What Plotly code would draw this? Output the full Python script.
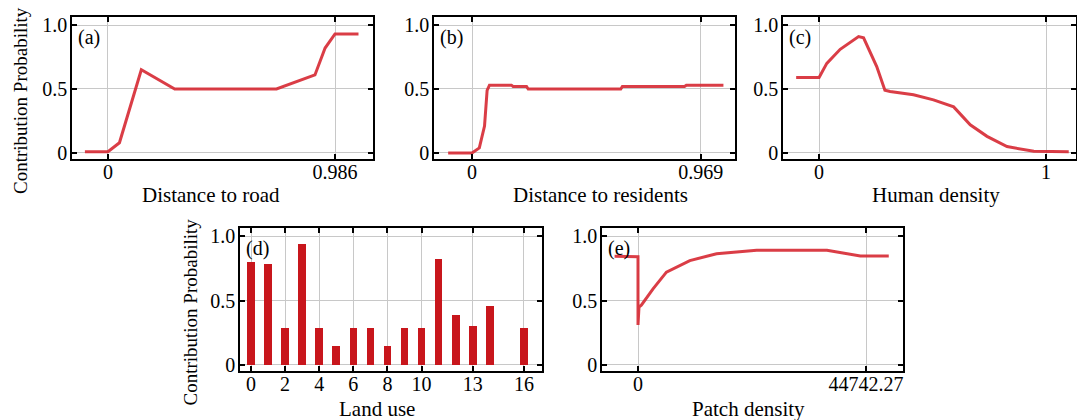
import plotly.graph_objects as go

W, H = 1077, 420

# ---- data ----
road_x = [-0.10, 0.0, 0.05, 0.145, 0.29, 0.732, 0.899, 0.943, 0.986, 1.088]
road_y = [0.01, 0.01, 0.08, 0.65, 0.50, 0.50, 0.61, 0.82, 0.93, 0.93]

res_x = [-0.101, 0.0, 0.031, 0.053, 0.064, 0.074, 0.167, 0.174, 0.231, 0.238, 0.630, 0.637, 0.900, 0.908, 1.065]
res_y = [0.0, 0.0, 0.04, 0.21, 0.49, 0.53, 0.53, 0.52, 0.52, 0.50, 0.50, 0.52, 0.52, 0.53, 0.53]

hum_x = [-0.101, 0.0, 0.034, 0.093, 0.174, 0.196, 0.254, 0.29, 0.313, 0.416, 0.504, 0.593, 0.666, 0.74, 0.828, 0.946, 1.10]
hum_y = [0.59, 0.59, 0.70, 0.81, 0.91, 0.90, 0.675, 0.49, 0.48, 0.455, 0.415, 0.36, 0.22, 0.13, 0.05, 0.013, 0.01]

land_x = [0, 1, 2, 3, 4, 5, 6, 7, 8, 9, 10, 11, 12, 13, 14, 16]
land_y = [0.80, 0.78, 0.29, 0.935, 0.29, 0.147, 0.29, 0.29, 0.147, 0.29, 0.29, 0.82, 0.384, 0.30, 0.456, 0.29]
land_ticks = [0, 2, 4, 6, 8, 10, 13, 16]

patch_x = [-4592, -328, 0, 1, 197, 656, 2952, 5576, 10168, 15417, 20010, 23290, 37067, 40347, 43627, 49203]
patch_y = [0.843, 0.843, 0.84, 0.31, 0.45, 0.464, 0.59, 0.72, 0.81, 0.863, 0.876, 0.89, 0.89, 0.866, 0.845, 0.845]

y_ticks = [0, 0.5, 1.0]
y_ticklabels = ["0", "0.5", "1.0"]
y_title = "Contribution Probability"

LINE = "rgba(214,40,50,0.9)"
BAR = "#c8161c"
FONT = "Liberation Serif"

fig = go.Figure()

def px_dom_x(a, b):
    return [a / W, b / W]

def px_dom_y(top, bottom):
    return [1 - bottom / H, 1 - top / H]

# name, x-domain px, y-domain px, x range, ticks, ticktext, x title, title centre px (x, y), y-title x px, letter
panels = [
    ("1", (72, 373), (17, 159), [-0.156, 1.151], [0, 0.986], ["0", "0.986"], "Distance to road", (211, 195), 20, "(a)"),
    ("2", (434, 735), (17, 159), [-0.161, 1.114], [0, 0.969], ["0", "0.969"], "Distance to residents", (600, 195), None, "(b)"),
    ("3", (783, 1076), (17, 159), [-0.159, 1.132], [0, 1], ["0", "1"], "Human density", (936, 195), None, "(c)"),
    ("4", (240, 542), (228, 371), [-0.645, 17.06], land_ticks, [str(t) for t in land_ticks], "Land use", (377, 409), 190, "(d)"),
    ("5", (602, 903), (228, 371), [-7064, 51998], [0, 44742.27], ["0", "44742.27"], "Patch density", (748, 409), None, "(e)"),
]

series = {
    "1": (road_x, road_y),
    "2": (res_x, res_y),
    "3": (hum_x, hum_y),
    "5": (patch_x, patch_y),
}

for name, xd, yd, xr, xt, xtl, xtitle, tpos, ytx, letter in panels:
    xa = "x" if name == "1" else "x" + name
    ya = "y" if name == "1" else "y" + name
    if name == "4":
        fig.add_trace(go.Bar(x=land_x, y=land_y, width=0.45, marker=dict(color=BAR, line=dict(width=0)),
                             xaxis=xa, yaxis=ya, showlegend=False))
    else:
        sx, sy = series[name]
        fig.add_trace(go.Scatter(x=sx, y=sy, mode="lines", line=dict(color=LINE, width=3),
                                 xaxis=xa, yaxis=ya, showlegend=False))
    axis_common = dict(showline=True, linecolor="black", linewidth=1.5, mirror="allticks",
                       ticks="inside", ticklen=5, tickwidth=1.5, tickcolor="black",
                       showgrid=True, gridcolor="#c8c8c8", gridwidth=1, zeroline=False,
                       automargin=False,
                       tickfont=dict(family=FONT, size=20, color="black"))
    xkey = "xaxis" if name == "1" else "xaxis" + name
    ykey = "yaxis" if name == "1" else "yaxis" + name
    fig.update_layout(**{
        xkey: dict(domain=px_dom_x(*xd), range=xr, tickmode="array", tickvals=xt, ticktext=xtl,
                   anchor=ya, ticklabelstandoff=-6, **axis_common),
        ykey: dict(domain=px_dom_y(*yd), range=[-0.047, 1.0625], tickmode="array", tickvals=y_ticks,
                   ticktext=y_ticklabels, anchor=xa, ticklabelstandoff=-1, **axis_common),
    })
    # x-axis title
    fig.add_annotation(text=xtitle, xref="paper", yref="paper", x=tpos[0] / W, y=1 - tpos[1] / H,
                       xanchor="center", yanchor="middle", showarrow=False,
                       font=dict(family=FONT, size=21, color="black"))
    # y-axis title
    if ytx is not None:
        yc = (yd[0] + yd[1]) / 2 + 13
        fig.add_annotation(text=y_title, xref="paper", yref="paper", x=ytx / W, y=1 - yc / H,
                           xanchor="center", yanchor="middle", textangle=-90, showarrow=False,
                           font=dict(family=FONT, size=19, color="black"))
    # panel letter
    fig.add_annotation(text=letter, xref=xa + " domain", yref=ya + " domain", x=0.012, y=0.95,
                       xanchor="left", yanchor="top", showarrow=False,
                       font=dict(family=FONT, size=20, color="black"))

fig.update_layout(width=W, height=H, margin=dict(l=0, r=0, t=0, b=0, autoexpand=False),
                  paper_bgcolor="white", plot_bgcolor="white", bargap=0)

fig.write_html("out.html", config={"displayModeBar": False},
               post_script="document.body.style.margin='0';document.body.style.overflow='hidden';")
